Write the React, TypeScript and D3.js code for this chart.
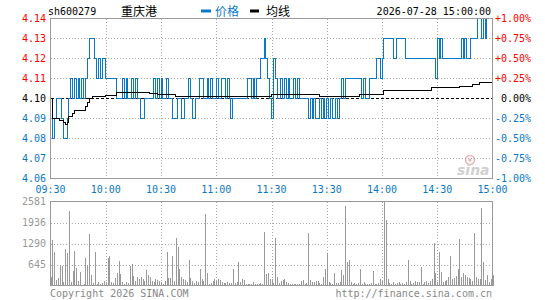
import React from "react";
import * as d3 from "d3";

// sh600279 intraday, one point per minute (241)
const priceTicks = ["4.14", "4.13", "4.12", "4.11", "4.10", "4.09", "4.08", "4.07", "4.06"];
const pctTicks = ["+1.00%", "+0.75%", "+0.50%", "+0.25%", "0.00%", "-0.25%", "-0.50%", "-0.75%", "-1.00%"];
const timeTicks = ["09:30", "10:00", "10:30", "11:00", "11:30", "13:30", "14:00", "14:30", "15:00"];
const volTicks = ["2581", "1936", "1290", "645"];
const prevClose = 4.1;
const volMax = 2581;

const prices = [
  4.10, 4.08, 4.09, 4.10, 4.10, 4.10, 4.09, 4.08, 4.08, 4.09,
  4.10, 4.11, 4.10, 4.11, 4.10, 4.11, 4.10, 4.11, 4.10, 4.11,
  4.12, 4.13, 4.13, 4.13, 4.12, 4.11, 4.12, 4.11, 4.12, 4.12,
  4.11, 4.11, 4.11, 4.11, 4.11, 4.11, 4.10, 4.10, 4.10, 4.11,
  4.10, 4.11, 4.10, 4.10, 4.11, 4.10, 4.11, 4.10, 4.10, 4.09,
  4.09, 4.10, 4.10, 4.10, 4.10, 4.10, 4.11, 4.10, 4.11, 4.10,
  4.11, 4.10, 4.10, 4.11, 4.10, 4.10, 4.09, 4.09, 4.09, 4.10,
  4.10, 4.09, 4.09, 4.10, 4.10, 4.11, 4.10, 4.09, 4.09, 4.10,
  4.10, 4.11, 4.11, 4.10, 4.10, 4.11, 4.10, 4.11, 4.10, 4.10,
  4.11, 4.10, 4.10, 4.11, 4.11, 4.10, 4.11, 4.10, 4.09, 4.10,
  4.10, 4.10, 4.10, 4.10, 4.10, 4.10, 4.10, 4.11, 4.11, 4.10,
  4.11, 4.10, 4.11, 4.11, 4.12, 4.12, 4.13, 4.12, 4.11, 4.10,
  4.09, 4.12, 4.11, 4.10, 4.10, 4.11, 4.10, 4.11, 4.10, 4.11,
  4.10, 4.10, 4.11, 4.10, 4.11, 4.10, 4.10, 4.10, 4.10, 4.10,
  4.09, 4.10, 4.09, 4.10, 4.09, 4.09, 4.10, 4.09, 4.10, 4.09,
  4.10, 4.09, 4.10, 4.09, 4.09, 4.10, 4.09, 4.10, 4.11, 4.10,
  4.11, 4.11, 4.11, 4.11, 4.11, 4.11, 4.11, 4.11, 4.11, 4.10,
  4.11, 4.10, 4.10, 4.11, 4.11, 4.11, 4.11, 4.12, 4.12, 4.11,
  4.12, 4.13, 4.13, 4.13, 4.13, 4.13, 4.12, 4.12, 4.13, 4.13,
  4.13, 4.13, 4.13, 4.12, 4.12, 4.12, 4.12, 4.12, 4.12, 4.12,
  4.12, 4.12, 4.12, 4.12, 4.12, 4.12, 4.12, 4.12, 4.12, 4.11,
  4.13, 4.12, 4.13, 4.12, 4.12, 4.12, 4.12, 4.12, 4.12, 4.12,
  4.12, 4.12, 4.12, 4.13, 4.12, 4.13, 4.12, 4.12, 4.13, 4.13,
  4.13, 4.13, 4.14, 4.14, 4.13, 4.14, 4.13, 4.14, 4.14, 4.14,
  4.13,
];

// average price line: minute where it changes, and new value
const avgStart = [0, 1, 5, 7, 8, 9, 10, 12, 13, 19, 20, 21, 23, 30, 36, 54, 58, 68, 120, 146, 168, 181, 207, 222, 229, 233];
const avgValue = [
  4.100, 4.090, 4.089, 4.088, 4.087, 4.088, 4.091, 4.0925, 4.094, 4.096, 4.098, 4.100, 4.101,
  4.1017, 4.1028, 4.1024, 4.102, 4.1012, 4.102, 4.1012, 4.1022, 4.104, 4.1054, 4.1062, 4.107, 4.108,
];

const volumes = [
  250, 1390, 1020, 164, 226, 643, 602, 100, 1112, 990, 2275, 120, 439, 1050, 530, 144, 408, 20, 60, 836, 622, 1571, 319, 80, 1020, 60, 120, 50, 90, 140,
  100, 836, 898, 120, 80, 216, 370, 745, 350, 110, 60, 120, 80, 592, 673, 290, 140, 247, 205, 250, 200, 150, 469, 308, 260, 140, 120, 185, 180, 140,
  100, 60, 130, 1020, 240, 220, 898, 150, 1459, 1173, 514, 247, 205, 160, 120, 775, 240, 140, 90, 140, 100, 514, 185, 144, 2183, 380, 60, 80, 140, 185,
  140, 185, 160, 100, 80, 80, 100, 70, 90, 500, 80, 100, 714, 100, 205, 160, 60, 40, 40, 60, 100, 40, 60, 50, 70, 40, 1632, 360, 380, 185,
  205, 90, 1448, 257, 80, 140, 160, 185, 100, 80, 60, 60, 60, 40, 60, 50, 140, 160, 60, 70, 1625, 160, 120, 100, 140, 140, 80, 60, 267, 493,
  987, 100, 80, 60, 380, 80, 80, 120, 473, 308, 2447, 720, 780, 100, 60, 80, 60, 90, 504, 60, 100, 60, 40, 60, 80, 442, 40, 60, 80, 185,
  140, 2581, 2015, 185, 80, 60, 100, 60, 80, 100, 60, 80, 60, 120, 780, 140, 60, 80, 140, 100, 120, 555, 60, 100, 140, 80, 140, 185, 1295, 370,
  120, 1028, 411, 100, 140, 160, 247, 905, 205, 226, 288, 514, 1419, 267, 370, 308, 267, 226, 205, 140, 1604, 267, 185, 205, 2375, 720, 160, 308, 100, 185,
  308,
];

const BLUE = "#0b78c6";
const RED = "#ff0000";
const GRID = "#aaaaaa";
const FRAME = "#999999";
const MONO = "'DejaVu Sans Mono', 'Liberation Mono', monospace";
const CJK = "'Noto Sans CJK SC', sans-serif";

const left = 50.5;
const right = 492.5;

export default function App() {
  const x = d3.scaleLinear().domain([0, 240]).range([left, right]);
  const y = d3.scaleLinear().domain([4.06, 4.14]).range([178.5, 18.5]);
  const yv = d3.scaleLinear().domain([0, volMax]).range([285.5, 201.5]);

  const priceLine = d3
    .line<number>()
    .x((d, i) => x(i))
    .y(d => y(d))
    .curve(d3.curveStepAfter);

  const avgPts: [number, number][] = avgStart.map((m, k) => [m, avgValue[k]]);
  avgPts.push([240, avgValue[avgValue.length - 1]]);
  const avgLine = d3
    .line<[number, number]>()
    .x(d => x(d[0]))
    .y(d => y(d[1]))
    .curve(d3.curveStepAfter);

  const colorOf = (v: number) =>
    Math.abs(v - prevClose) < 1e-6 ? "#000" : v > prevClose ? RED : BLUE;

  const gridMinutes = timeTicks.map((t, i) => i * 30);
  const volStep = volMax / volTicks.length;

  return (
    <svg
      width={545}
      height={300}
      style={{ position: "absolute", left: 0, top: 0, background: "#fff" }}
      fontFamily={MONO}
      fontSize={10}
    >
      {/* header */}
      <text x={48} y={15} fill="#000">sh600279</text>
      <text x={121} y={16} fill="#000" fontFamily={CJK} fontSize={12}>重庆港</text>
      <rect x={201} y={9.5} width={10} height={3} fill={BLUE} />
      <text x={215} y={16} fill={BLUE} fontFamily={CJK} fontSize={12}>价格</text>
      <rect x={250} y={9.5} width={9} height={3} fill="#000" />
      <text x={266} y={16} fill="#000" fontFamily={CJK} fontSize={12}>均线</text>
      <text x={491} y={15} fill="#000" textAnchor="end">2026-07-28 15:00:00</text>

      {/* price grid */}
      <g shapeRendering="crispEdges">
        {priceTicks.slice(1, -1).map(t =>
          +t === prevClose ? null : (
            <line key={t} x1={left} x2={right} y1={y(+t)} y2={y(+t)} stroke={GRID} strokeDasharray="1,2" />
          )
        )}
        {gridMinutes.slice(1, -1).map(m => (
          <line key={m} x1={Math.round(x(m)) + 0.5} x2={Math.round(x(m)) + 0.5} y1={18.5} y2={178.5} stroke={GRID} strokeDasharray="1,2" />
        ))}
        <line x1={left} x2={right} y1={y(prevClose)} y2={y(prevClose)} stroke="#000" strokeDasharray="3,2" />
      </g>

      {/* watermark */}
      <g opacity={0.55}>
        <circle cx={470} cy={160} r={4.5} fill="none" stroke="#e07070" strokeWidth={1.5} />
        <circle cx={470} cy={160} r={1.6} fill="#e07070" />
        <text x={457} y={175} fill="#aaa" fontFamily="'DejaVu Sans', sans-serif" fontStyle="italic" fontWeight="bold" fontSize={14}>sina</text>
      </g>

      {/* lines */}
      <g shapeRendering="crispEdges" fill="none">
        <path d={priceLine(prices) || ""} stroke={BLUE} strokeWidth={1} />
        <path d={avgLine(avgPts) || ""} stroke="#000" strokeWidth={1} />
      </g>

      <rect x={left} y={18.5} width={right - left} height={160} fill="none" stroke={FRAME} shapeRendering="crispEdges" />

      {/* price axis labels */}
      {priceTicks.map(t => (
        <text key={t} x={46} y={y(+t) + 3} textAnchor="end" fill={colorOf(+t)}>{t}</text>
      ))}
      {pctTicks.map((t, i) => (
        <text key={t} x={531} y={y(+priceTicks[i]) + 3} textAnchor="end" fill={colorOf(+priceTicks[i])}>{t}</text>
      ))}
      {timeTicks.map((t, i) => (
        <text key={t} x={x(i * 30)} y={192.5} textAnchor="middle" fill={BLUE}>{t}</text>
      ))}

      {/* volume panel */}
      <g shapeRendering="crispEdges">
        {volTicks.slice(1).map((t, k) => {
          const yy = Math.round(yv(volMax - (k + 1) * volStep)) + 0.5;
          return <line key={t} x1={left} x2={right} y1={yy} y2={yy} stroke={GRID} strokeDasharray="1,2" />;
        })}
        {gridMinutes.slice(1, -1).map(m => (
          <line key={m} x1={Math.round(x(m)) + 0.5} x2={Math.round(x(m)) + 0.5} y1={201.5} y2={285.5} stroke={GRID} strokeDasharray="1,2" />
        ))}
        {volumes.map((v, i) => (
          <line key={i} x1={Math.round(x(i)) + 0.5} x2={Math.round(x(i)) + 0.5} y1={yv(0)} y2={yv(v)} stroke="#999" />
        ))}
        <rect x={left} y={201.5} width={right - left} height={84} fill="none" stroke={FRAME} />
      </g>
      {volTicks.map((t, k) => (
        <text key={t} x={46} y={Math.round(yv(volMax - k * volStep)) + 3} textAnchor="end" fill="#999">{t}</text>
      ))}

      {/* footer */}
      <text x={50} y={297} fill="#888">Copyright 2026 SINA.COM</text>
      <text x={492} y={297} fill="#888" textAnchor="end">http://finance.sina.com.cn</text>
    </svg>
  );
}
